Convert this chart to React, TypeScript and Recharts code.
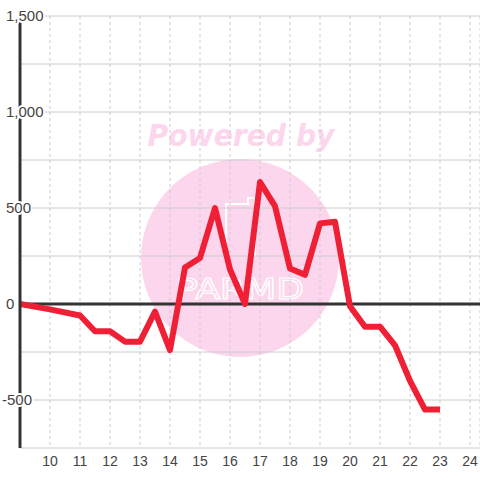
import React from "react";
import { LineChart, Line, XAxis, YAxis, CartesianGrid, ReferenceLine } from "recharts";

const xValues = [9, 10, 11, 11.5, 12, 12.5, 13, 13.5, 14, 14.5, 15, 15.5, 16, 16.5, 17, 17.5, 18, 18.5, 19, 19.5, 20, 20.5, 21, 21.5, 22, 22.5, 23];
const yValues = [0, -28, -60, -142, -142, -196, -196, -40, -240, 190, 240, 500, 180, 0, 635, 510, 185, 152, 420, 428, -12, -118, -118, -215, -400, -550, -550];
const xTicks = [10, 11, 12, 13, 14, 15, 16, 17, 18, 19, 20, 21, 22, 23, 24];
const yTicks = [-750, -500, -250, 0, 250, 500, 750, 1000, 1250, 1500];
const yLabelStep = 500;

const data = xValues.map((x, i) => ({ x, value: yValues[i] }));

const FONT = "'Liberation Sans', Arial, sans-serif";

const YTick = ({ y, payload }: any) => {
  const v = payload.value;
  if (v % yLabelStep !== 0) return null;
  return (
    <text
      x={v < 0 ? 2 : 6}
      y={y}
      dy="0.36em"
      textAnchor="start"
      fontSize={15}
      fontFamily={FONT}
      fill="#444"
      stroke="#fff"
      strokeWidth={4}
      strokeLinejoin="round"
      paintOrder="stroke"
    >
      {v.toLocaleString("en-US")}
    </text>
  );
};

const Watermark = () => (
  <svg width={480} height={480} style={{ position: "absolute", left: 0, top: 0 }}>
    <text
      x={241}
      y={146}
      textAnchor="middle"
      fontSize={30}
      fontWeight="bold"
      fontStyle="italic"
      fontFamily="'DejaVu Sans', Verdana, sans-serif"
      fill="#fcd6ec"
      textLength={187}
      lengthAdjust="spacingAndGlyphs"
    >
      Powered by
    </text>
    <circle cx={240} cy={258} r={99} fill="#fcd6ec" />
    <path
      d="M226 256 L226 204 L248 204 L248 198 L255 198 L255 256"
      fill="none"
      stroke="#fff"
      strokeWidth={2}
    />
    <text
      x={240}
      y={299}
      textAnchor="middle"
      fontSize={28}
      fontFamily="'DejaVu Sans', sans-serif"
      fill="none"
      stroke="#fff"
      strokeWidth={1.2}
      textLength={128}
      lengthAdjust="spacingAndGlyphs"
    >
      PARMD
    </text>
  </svg>
);

export default function App() {
  return (
    <div style={{ position: "absolute", left: 0, top: 0, width: 480, height: 480, fontFamily: FONT }}>
      <Watermark />
      <LineChart width={480} height={480} data={data} margin={{ top: 16, right: 0, bottom: 2, left: 0 }}>
        <CartesianGrid horizontal vertical={false} stroke="#cccccc" />
        <CartesianGrid horizontal={false} vertical stroke="#cccccc" strokeDasharray="3 3" />
        <XAxis
          type="number"
          dataKey="x"
          domain={[9, 24.3333]}
          ticks={xTicks}
          allowDataOverflow
          axisLine={false}
          tickLine={false}
          tick={{ fontSize: 14, fill: "#444", fontFamily: FONT }}
          height={30}
          interval={0}
        />
        <YAxis
          type="number"
          domain={[-750, 1500]}
          ticks={yTicks}
          allowDataOverflow
          width={20}
          axisLine={{ stroke: "#333", strokeWidth: 3 }}
          tickLine={false}
          tick={<YTick />}
          interval={0}
        />
        <ReferenceLine y={0} stroke="#333" strokeWidth={3} />
        <Line
          type="linear"
          dataKey="value"
          stroke="#ef2035"
          strokeWidth={6}
          strokeLinejoin="round"
          dot={false}
          activeDot={false}
          isAnimationActive={false}
        />
      </LineChart>
    </div>
  );
}
